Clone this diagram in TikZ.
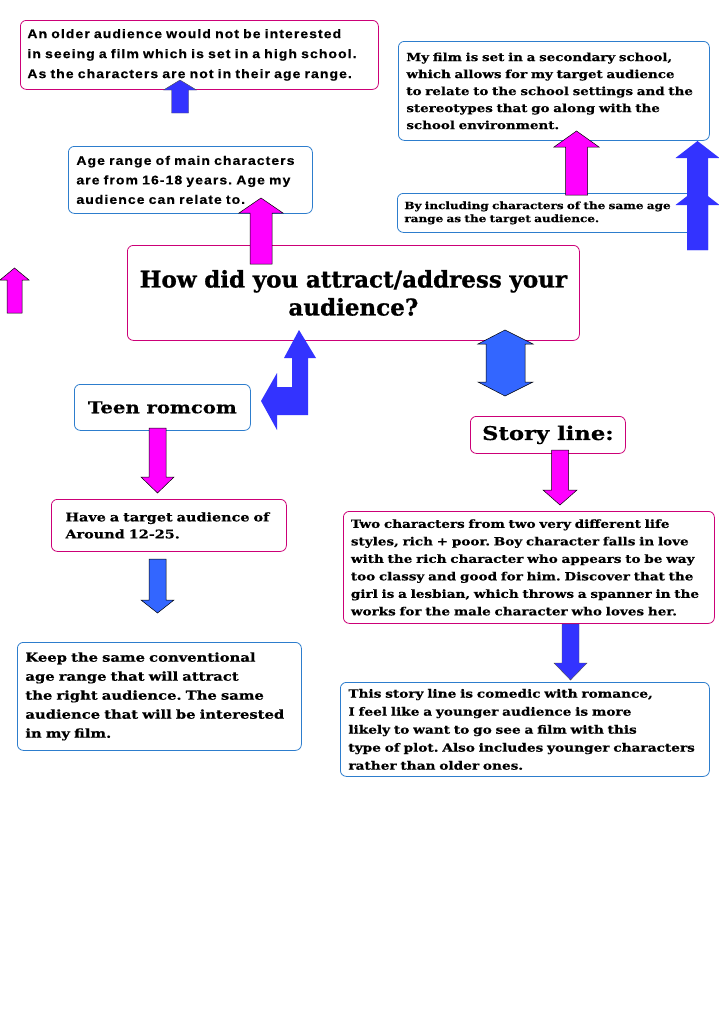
\documentclass[tikz,border=0pt]{standalone}
\usepackage{fontspec}
\usetikzlibrary{positioning}
\frenchspacing
\newfontfamily\arialfnt{Liberation Sans}[LetterSpace=8.5, FakeStretch=1.12, FakeBold=0.6]
\newfontfamily\cooperfnt{DejaVu Serif}[FakeStretch=1.2, FakeBold=0.5]
\newfontfamily\cooperhead{DejaVu Serif}[FakeBold=0.9]
\definecolor{boxpink}{RGB}{204,0,119}
\definecolor{boxblue}{RGB}{45,125,205}
\definecolor{arrmagenta}{RGB}{255,0,255}
\definecolor{arrblue}{RGB}{51,51,255}
\definecolor{arrlight}{RGB}{51,102,255}
% block arrow: centre x, shaft half width, head half width, tip y, head base y, tail y
\newcommand{\blkarrow}[7][]{%
  \filldraw[#1] (#2-#3,#7) -- (#2-#3,#6) -- (#2-#4,#6) -- (#2,#5) -- (#2+#4,#6) -- (#2+#3,#6) -- (#2+#3,#7) -- cycle;}
\tikzset{
  card/.style={draw, rounded corners=6pt, fill=white, anchor=north west, inner ysep=0pt, align=left, line width=0.8pt},
  pinkcard/.style={card, draw=boxpink},
  bluecard/.style={card, draw=boxblue},
  sanstxt/.style={font=\arialfnt\bfseries\fontsize{12.5}{20}\selectfont},
  serifbig/.style={font=\cooperhead\bfseries\fontsize{23}{28}\selectfont},
  seriftxt/.style={font=\cooperfnt\bfseries\fontsize{11.3}{17.5}\selectfont},
  magarrow/.style={fill=arrmagenta, draw=black, line width=0.5pt},
  bluearrow/.style={fill=arrblue, draw=black!70, line width=0.4pt},
  flatarrow/.style={fill=arrblue, draw=none},
  lightarrow/.style={fill=arrlight, draw=black, line width=0.5pt}
}
\begin{document}
\begin{tikzpicture}[x=1pt, y=-1pt]
\useasboundingbox (0,0) rectangle (719,1017);

% left column
\node[pinkcard, sanstxt, inner xsep=7pt, text width=344pt, minimum width=358pt, minimum height=69pt] (older) at (20,20)
  {An older audience would not be interested\\ in seeing a film which is set in a high school.\\ As the characters are not in their age range.};
\node[bluecard, inner xsep=8pt, text width=228pt, minimum width=244pt, minimum height=67pt,
  font=\arialfnt\bfseries\fontsize{12.5}{19.5}\selectfont] (agerange) at (68,146)
  {Age range of main characters\\ are from 16-18 years. Age my\\ audience can relate to.};

% right top
\node[bluecard, inner xsep=8pt, text width=295pt, minimum width=311pt, minimum height=99pt,
  font=\cooperfnt\bfseries\fontsize{11.2}{17}\selectfont] (setting) at (398,41)
  {My film is set in a secondary school,\\ which allows for my target audience\\ to relate to the school settings and the\\ stereotypes that go along with the\\ school environment.};
\node[bluecard, inner xsep=7pt, text width=294pt, minimum width=308pt, minimum height=39pt,
  font=\cooperfnt\bfseries\fontsize{10}{13}\selectfont] (sameage) at (397,193)
  {By including characters of the same age\\ range as the target audience.};

% question
\node[pinkcard, serifbig, align=center, text width=440pt, minimum width=452pt, minimum height=95pt] (question) at (127,245)
  {How did you attract/address your\\ audience?};

% genre branch
\node[bluecard, align=center, minimum width=176pt, minimum height=46pt,
  font=\cooperfnt\bfseries\fontsize{16.4}{20}\selectfont] (genre) at (74,384) {Teen romcom};
\node[pinkcard, inner xsep=14pt, text width=207pt, minimum width=235pt, minimum height=52pt,
  font=\cooperfnt\bfseries\fontsize{12}{17}\selectfont] (target) at (51,499)
  {Have a target audience of\\ Around 12-25.};
\node[bluecard, inner xsep=8pt, text width=268pt, minimum width=284pt, minimum height=108pt,
  font=\cooperfnt\bfseries\fontsize{12.3}{19}\selectfont] (conventional) at (17,642)
  {Keep the same conventional\\ age range that will attract\\ the right audience. The same\\ audience that will be interested\\ in my film.};

% story branch
\node[pinkcard, align=center, minimum width=155pt, minimum height=37pt,
  font=\cooperfnt\bfseries\fontsize{18.9}{22}\selectfont] (story) at (470,416) {Story line:};
\node[pinkcard, seriftxt, inner xsep=7.5pt, text width=356pt, minimum width=371pt, minimum height=112pt] (plot) at (343,511)
  {Two characters from two very different life\\ styles, rich + poor. Boy character falls in love\\ with the rich character who appears to be way\\ too classy and good for him. Discover that the\\ girl is a lesbian, which throws a spanner in the\\ works for the male character who loves her.};
\node[bluecard, inner xsep=8pt, text width=353pt, minimum width=369pt, minimum height=94pt,
  font=\cooperfnt\bfseries\fontsize{11.4}{18}\selectfont] (comedic) at (340,682)
  {This story line is comedic with romance,\\ I feel like a younger audience is more\\ likely to want to go see a film with this\\ type of plot. Also includes younger characters\\ rather than older ones.};

% arrows
\blkarrow[bluearrow]{180}{8.5}{16.5}{80}{90}{113}
\blkarrow[magarrow]{261}{11}{22}{198}{213}{264}
\blkarrow[magarrow]{14.5}{7.5}{14.5}{268}{280}{313}
\blkarrow[magarrow]{576.5}{11}{22.5}{131}{147}{195}
\blkarrow[flatarrow]{697.5}{10.5}{22}{188}{205}{250}
\blkarrow[flatarrow]{697.5}{10.5}{22}{141}{158}{250}
\blkarrow[magarrow]{157.5}{8.5}{16.5}{493}{477}{428}
\blkarrow[lightarrow]{157.5}{8.5}{16.5}{613}{600}{559}
\blkarrow[magarrow]{560}{8.5}{17}{505}{490}{450}
\blkarrow[bluearrow]{570.5}{8.5}{16.5}{680}{663}{624}

% bent arrow
\fill[arrblue] (299,330) -- (316,358) -- (308,358) -- (308,415) -- (277,415) -- (277,430) -- (261,401)
  -- (277,373) -- (277,387) -- (292,387) -- (292,358) -- (284,358) -- cycle;

% double arrow
\filldraw[lightarrow] (505,330) -- (533,344) -- (525,344) -- (525,382) -- (533,382) -- (505,396)
  -- (478,382) -- (486,382) -- (486,344) -- (478,344) -- cycle;
\end{tikzpicture}
\end{document}
